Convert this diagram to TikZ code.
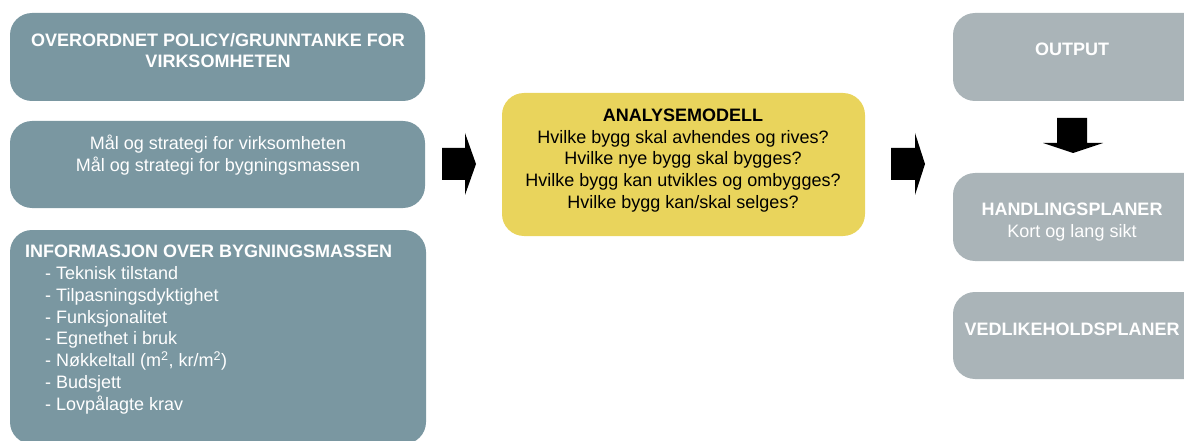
\documentclass[tikz,border=0pt]{standalone}
\usepackage{fontspec}
\setmainfont{Liberation Sans}
\definecolor{slate}{RGB}{122,151,161}
\definecolor{sand}{RGB}{233,212,92}
\definecolor{ash}{RGB}{170,180,184}
\tikzset{
  panel/.style={rounded corners=22pt, inner sep=0pt, draw=none},
  bluebox/.style={panel, fill=slate},
  yellowbox/.style={panel, fill=sand},
  greybox/.style={panel, fill=ash},
  txt/.style={inner sep=0pt, font=\fontsize{18}{21.8}\selectfont, align=center},
  wtxt/.style={txt, text=white},
  blockarrow/.style={fill=black, draw=none}
}
\begin{document}
\begin{tikzpicture}[x=1pt,y=-1pt]
\useasboundingbox (0,0) rectangle (1184,441);
\clip (0,0) rectangle (1184,441);
% left panels
\node[bluebox, minimum width=415pt, minimum height=88pt] (b1) at (217.5,57) {};
\node[bluebox, minimum width=415pt, minimum height=87pt] (b2) at (217.5,164.5) {};
\node[bluebox, minimum width=416pt, minimum height=214pt] (b3) at (218,337) {};
% centre panel
\node[yellowbox, minimum width=363pt, minimum height=143pt] (b4) at (683.5,164.5) {};
% right panels
\node[greybox, minimum width=260pt, minimum height=88pt] (r1) at (1083,57) {};
\node[greybox, minimum width=260pt, minimum height=88pt] (r2) at (1083,217) {};
\node[greybox, minimum width=260pt, minimum height=87pt] (r3) at (1083,335.5) {};
% texts
\node[wtxt, font=\fontsize{18}{21.8}\selectfont\bfseries] (t1) at (218,50.5)
  {OVERORDNET POLICY/GRUNNTANKE FOR\\VIRKSOMHETEN};
\node[wtxt] (t2) at (218,155)
  {Mål og strategi for virksomheten\\Mål og strategi for bygningsmassen};
\node[wtxt, align=left, anchor=west] (t3) at (25,329.5)
  {\textbf{INFORMASJON OVER BYGNINGSMASSEN}\\
   \hspace*{20pt}- Teknisk tilstand\\
   \hspace*{20pt}- Tilpasningsdyktighet\\
   \hspace*{20pt}- Funksjonalitet\\
   \hspace*{20pt}- Egnethet i bruk\\
   \hspace*{20pt}- Nøkkeltall (m\textsuperscript{2}, kr/m\textsuperscript{2})\\
   \hspace*{20pt}- Budsjett\\
   \hspace*{20pt}- Lovpålagte krav};
\node[txt, text=black] (t4) at (683,160.5)
  {\textbf{ANALYSEMODELL}\\
   Hvilke bygg skal avhendes og rives?\\
   Hvilke nye bygg skal bygges?\\
   Hvilke bygg kan utvikles og ombygges?\\
   Hvilke bygg kan/skal selges?};
\node[wtxt, font=\fontsize{18}{21.8}\selectfont\bfseries] (t5) at (1072,49.5) {OUTPUT};
\node[wtxt] (t6) at (1072,222) {\textbf{HANDLINGSPLANER}\\Kort og lang sikt};
\node[wtxt, font=\fontsize{18}{21.8}\selectfont\bfseries] (t7) at (1072,329.5) {VEDLIKEHOLDSPLANER};
% block arrows
\coordinate (a1) at (442,148);
\coordinate (a2) at (891,148);
\coordinate (a3) at (1057,118);
\fill[blockarrow] (a1) -- ++(23,0) -- ++(0,-15) -- ++(11,31) -- ++(-11,31) -- ++(0,-15) -- ++(-23,0) -- cycle;
\fill[blockarrow] (a2) -- ++(24,0) -- ++(0,-15) -- ++(10,31) -- ++(-10,31) -- ++(0,-15) -- ++(-24,0) -- cycle;
\fill[blockarrow] (a3) -- ++(30,0) -- ++(0,25) -- ++(16,0) -- ++(-30,10) -- ++(-30,-10) -- ++(14,0) -- cycle;
\end{tikzpicture}
\end{document}
